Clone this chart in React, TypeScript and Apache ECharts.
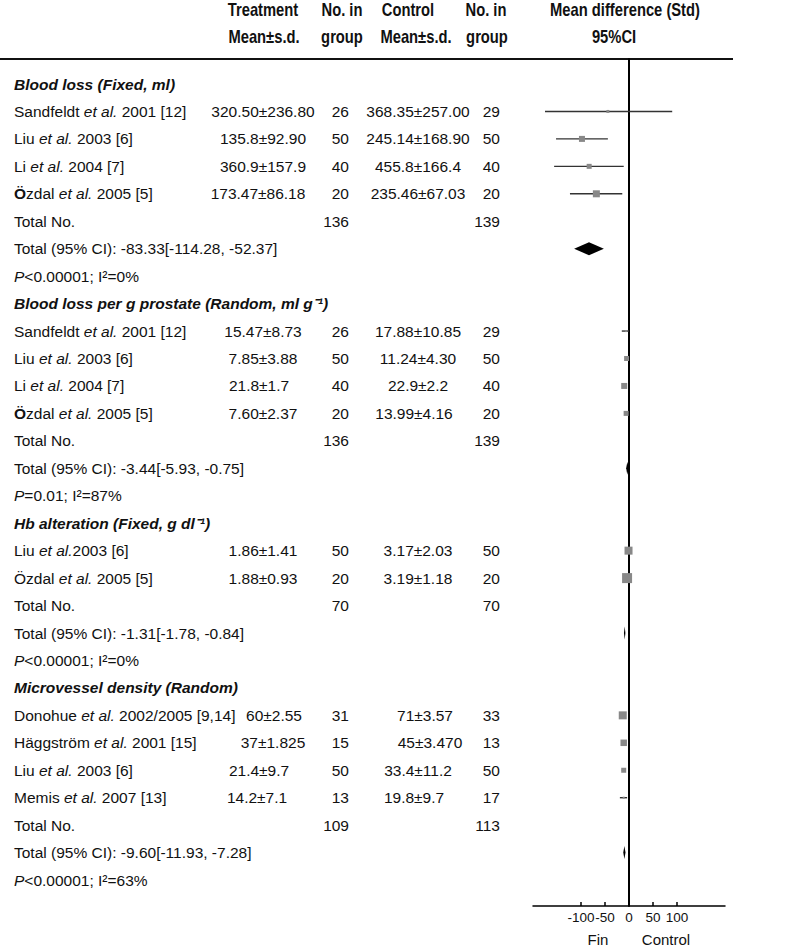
import React, { useEffect, useRef } from "react";
import * as echarts from "echarts";

// ---------- data ----------
const headerTop = ["Treatment", "No. in", "Control", "No. in", "Mean difference (Std)"];
const headerBottom = ["Mean±s.d.", "group", "Mean±s.d.", "group", "95%CI"];

const rowLabels = [
  "{h|Blood loss (Fixed, ml)}",
  "Sandfeldt {i|et al.} 2001 [12]",
  "Liu {i|et al.} 2003 [6]",
  "Li {i|et al.} 2004 [7]",
  "{b|Ö}zdal {i|et al.} 2005 [5]",
  "Total No.",
  "Total (95% CI): -83.33[-114.28, -52.37]",
  "{i|P}<0.00001; I²=0%",
  "{h|Blood loss per g prostate (Random, ml g⁻¹)}",
  "Sandfeldt {i|et al.} 2001 [12]",
  "Liu {i|et al.} 2003 [6]",
  "Li {i|et al.} 2004 [7]",
  "{b|Ö}zdal {i|et al.} 2005 [5]",
  "Total No.",
  "Total (95% CI): -3.44[-5.93, -0.75]",
  "{i|P}=0.01; I²=87%",
  "{h|Hb alteration (Fixed, g dl⁻¹)}",
  "Liu {i|et al.}2003 [6]",
  "Özdal {i|et al.} 2005 [5]",
  "Total No.",
  "Total (95% CI): -1.31[-1.78, -0.84]",
  "{i|P}<0.00001; I²=0%",
  "{h|Microvessel density (Random)}",
  "Donohue {i|et al.} 2002/2005 [9,14]",
  "Häggström {i|et al.} 2001 [15]",
  "Liu {i|et al.} 2003 [6]",
  "Memis {i|et al.} 2007 [13]",
  "Total No.",
  "Total (95% CI): -9.60[-11.93, -7.28]",
  "{i|P}<0.00001; I²=63%",
];

const treatmentMeanSd = [
  "", "320.50±236.80", "135.8±92.90", "360.9±157.9", "173.47±86.18", "", "", "",
  "", "15.47±8.73", "7.85±3.88", "21.8±1.7", "7.60±2.37", "", "", "",
  "", "1.86±1.41", "1.88±0.93", "", "", "",
  "", "60±2.55", "37±1.825", "21.4±9.7", "14.2±7.1", "", "", "",
];
const treatmentN = [
  "", "26", "50", "40", "20", "136", "", "",
  "", "26", "50", "40", "20", "136", "", "",
  "", "50", "20", "70", "", "",
  "", "31", "15", "50", "13", "109", "", "",
];
const controlMeanSd = [
  "", "368.35±257.00", "245.14±168.90", "455.8±166.4", "235.46±67.03", "", "", "",
  "", "17.88±10.85", "11.24±4.30", "22.9±2.2", "13.99±4.16", "", "", "",
  "", "3.17±2.03", "3.19±1.18", "", "", "",
  "", "71±3.57", "45±3.470", "33.4±11.2", "19.8±9.7", "", "", "",
];
const controlN = [
  "", "29", "50", "40", "20", "139", "", "",
  "", "29", "50", "40", "20", "139", "", "",
  "", "50", "20", "70", "", "",
  "", "33", "13", "50", "17", "113", "", "",
];

// forest plot: individual studies (row index, estimate, CI, weight)
const studyRows = [1, 2, 3, 4, 9, 10, 11, 12, 17, 18, 23, 24, 25, 26];
const studyEst = [-44, -98, -83, -68, -6, -5, -10, -6, -1, -4, -13, -11, -11, -11];
const studyLow = [-175, -152, -156, -123, -15, -8, -12, -9, -3, -6, -15, -13, -15, -19];
const studyHigh = [90, -44, -11, -14, 0, -2, -8, -3, 1, -2, -11, -9, -7, -4];
const studyWeight = [9, 36, 25, 49, 4, 25, 36, 25, 64, 100, 64, 42, 25, 4];

// pooled estimates
const pooledRows = [6, 14, 20, 28];
const pooledEst = [-83.33, -3.44, -9, -9.6];
const pooledLow = [-114.28, -5.93, -10.5, -11.93];
const pooledHigh = [-52.37, -0.75, -7.5, -7.28];

const tickValues = [-100, -50, 0, 50, 100];
const sideLabels = ["Fin", "Control"];

// ---------- layout ----------
const FONT = '"Liberation Sans", Arial, Helvetica, sans-serif';
const BODY = 15.5;
const ROW_FIRST_Y = 84;
const ROW_STEP = 27.45;
const GRID_TOP = 59;
const GRID_BOTTOM_Y = 906;
const COL_NAME_X = 14;
const COL_T_X = 263;
const COL_NT_X = 349;
const COL_C_X = 418;
const COL_NC_X = 500;
const tNudge: Record<number, number> = { 4: -5, 11: -4, 23: 11, 24: 10, 25: -4, 26: -6 };
const cNudge: Record<number, number> = { 12: -4, 23: 7, 24: 12, 26: -4 };
const headerTopX = [263, 342, 408, 486, 625];
const headerBottomX = [264, 342, 416, 487, 614];

const font = (style: string) => `${style} ${BODY}px ${FONT}`;
const rich = {
  i: { font: font("italic") },
  h: { font: font("italic bold") },
  b: { font: font("bold") },
};

export default function App() {
  const ref = useRef<HTMLDivElement>(null);
  useEffect(() => {
    if (!ref.current) return;
    const chart = echarts.init(ref.current, undefined, { renderer: "svg" });
    const yMin = (GRID_TOP - ROW_FIRST_Y) / ROW_STEP;
    const yMax = (GRID_BOTTOM_Y - ROW_FIRST_Y) / ROW_STEP;

    const txt = (text: string, x: number, y: number, align: string) => ({
      type: "text",
      x,
      y,
      style: {
        text,
        font: font(""),
        fill: "#111",
        align,
        textAlign: align,
        verticalAlign: "middle",
        textVerticalAlign: "middle",
        rich,
      },
    });

    const hStyle = (text: string) => ({
      text,
      font: `bold 18px ${FONT}`,
      fill: "#111",
      align: "center",
      textAlign: "center",
      verticalAlign: "middle",
      textVerticalAlign: "middle",
    });
    const headerEls: any[] = [];
    headerTop.forEach((t, i) =>
      headerEls.push({ type: "text", x: headerTopX[i], y: 9, scaleX: 0.82, style: hStyle(t) })
    );
    headerBottom.forEach((t, i) =>
      headerEls.push({ type: "text", x: headerBottomX[i], y: 36, scaleX: 0.82, style: hStyle(t) })
    );
    const sideStyle = (text: string) => ({
      text,
      font: `15px ${FONT}`,
      fill: "#111",
      align: "center",
      textAlign: "center",
      verticalAlign: "middle",
      textVerticalAlign: "middle",
    });

    const option: any = {
      animation: false,
      grid: { left: 533, right: 75, top: GRID_TOP, bottom: 947 - GRID_BOTTOM_Y },
      xAxis: {
        type: "value",
        min: -200,
        max: 200,
        interval: 50,
        axisLine: { show: true, onZero: false, lineStyle: { color: "#000", width: 1.5 } },
        axisTick: {
          show: true,
          inside: true,
          length: 4,
          customValues: tickValues,
          lineStyle: { color: "#000", width: 1.5 },
        },
        axisLabel: {
          customValues: tickValues,
          color: "#111",
          fontSize: 13.5,
          fontFamily: FONT,
          margin: 4,
        },
        splitLine: { show: false },
      },
      yAxis: {
        type: "value",
        inverse: true,
        min: yMin,
        max: yMax,
        axisLine: { show: true, onZero: true, lineStyle: { color: "#000", width: 2 } },
        axisTick: { show: false },
        axisLabel: { show: false },
        splitLine: { show: false },
      },
      graphic: [
        {
          type: "line",
          shape: { x1: 0, y1: GRID_TOP, x2: 733, y2: GRID_TOP },
          style: { stroke: "#111", lineWidth: 2 },
        },
        ...headerEls,
        { type: "text", x: 598, y: 939, style: sideStyle(sideLabels[0]) },
        { type: "text", x: 666, y: 939, style: sideStyle(sideLabels[1]) },
      ],
      series: [
        {
          type: "custom",
          name: "table",
          silent: true,
          clip: false,
          data: rowLabels.map((_, i) => [0, i]),
          encode: { x: 0, y: 1 },
          renderItem: (params: any, api: any) => {
            const row = api.value(1);
            const y = api.coord([0, row])[1];
            const children: any[] = [txt(rowLabels[row], COL_NAME_X, y, "left")];
            if (treatmentMeanSd[row])
              children.push(txt(treatmentMeanSd[row], COL_T_X + (tNudge[row] || 0), y, "center"));
            if (treatmentN[row]) children.push(txt(treatmentN[row], COL_NT_X, y, "right"));
            if (controlMeanSd[row])
              children.push(txt(controlMeanSd[row], COL_C_X + (cNudge[row] || 0), y, "center"));
            if (controlN[row]) children.push(txt(controlN[row], COL_NC_X, y, "right"));
            return { type: "group", children };
          },
        },
        {
          type: "custom",
          name: "studies",
          silent: true,
          clip: false,
          data: studyRows.map((r, i) => [studyEst[i], studyLow[i], studyHigh[i], r, studyWeight[i]]),
          encode: { x: [0, 1, 2], y: 3 },
          renderItem: (params: any, api: any) => {
            const est = api.value(0);
            const lo = api.value(1);
            const hi = api.value(2);
            const row = api.value(3);
            const w = api.value(4);
            const pLo = api.coord([lo, row]);
            const pHi = api.coord([hi, row]);
            const pE = api.coord([est, row]);
            const s = Math.max(2, Math.sqrt(w));
            return {
              type: "group",
              children: [
                {
                  type: "line",
                  shape: { x1: pLo[0], y1: pLo[1], x2: pHi[0], y2: pHi[1] },
                  style: { stroke: "#333", lineWidth: 1.4 },
                },
                {
                  type: "rect",
                  shape: { x: pE[0] - s / 2, y: pE[1] - s / 2, width: s, height: s },
                  style: { fill: "#888" },
                },
              ],
            };
          },
        },
        {
          type: "custom",
          name: "pooled",
          silent: true,
          clip: false,
          data: pooledRows.map((r, i) => [pooledEst[i], pooledLow[i], pooledHigh[i], r]),
          encode: { x: [0, 1, 2], y: 3 },
          renderItem: (params: any, api: any) => {
            const row = api.value(3);
            const pE = api.coord([api.value(0), row]);
            const pLo = api.coord([api.value(1), row]);
            const pHi = api.coord([api.value(2), row]);
            const h = 6.5;
            return {
              type: "polygon",
              shape: {
                points: [
                  [pLo[0], pE[1]],
                  [pE[0], pE[1] - h],
                  [pHi[0], pE[1]],
                  [pE[0], pE[1] + h],
                ],
              },
              style: { fill: "#000" },
            };
          },
        },
      ],
    };
    chart.setOption(option);
    return () => chart.dispose();
  }, []);
  return (
    <div
      ref={ref}
      style={{ position: "absolute", left: 0, top: 0, width: 800, height: 947, background: "#fff" }}
    />
  );
}
